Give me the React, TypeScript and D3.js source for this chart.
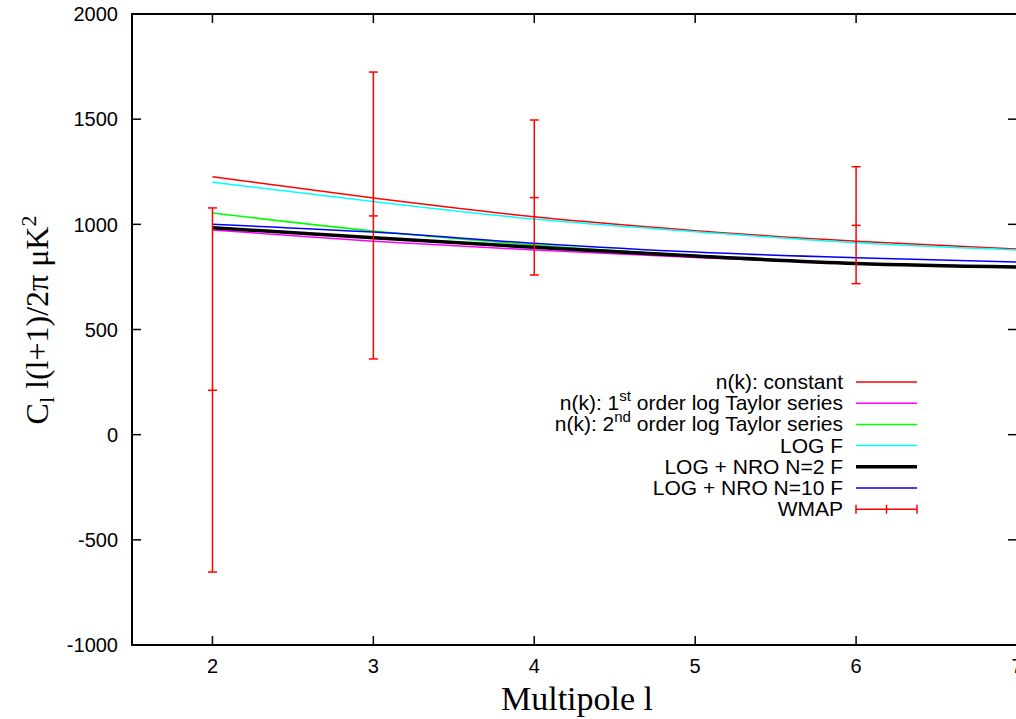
import * as d3 from 'd3';
import React from 'react';

// multipole values where the model curves are sampled
const ells = [2, 3, 4, 5, 6, 7];
const constantN = [1226, 1125, 1036, 970, 920, 883];
const taylor1st = [973, 920, 878, 842, 812, 795];
const taylor2nd = [1054, 968, 902, 852, 815, 797];
const logF = [1200, 1108, 1025, 965, 912, 878];
const logNro2 = [984, 936, 891, 849, 814, 797];
const logNro10 = [1000, 963, 910, 868, 841, 821];

// WMAP points with error bars
const wmapEll = [2, 3, 4, 6];
const wmapVal = [211, 1040, 1127, 995];
const wmapLow = [-653, 360, 759, 718];
const wmapHigh = [1078, 1724, 1496, 1274];

const xTicks = [2, 3, 4, 5, 6, 7];
const yTicks = [-1000, -500, 0, 500, 1000, 1500, 2000];

const series = [
  { label: 'constant', values: constantN, color: '#ff0000', width: 1.5 },
  { label: '1st', values: taylor1st, color: '#ff00ff', width: 1.5 },
  { label: '2nd', values: taylor2nd, color: '#00ff00', width: 1.5 },
  { label: 'LOG F', values: logF, color: '#00ffff', width: 1.5 },
  { label: 'LOG + NRO N=2 F', values: logNro2, color: '#000000', width: 3.5 },
  { label: 'LOG + NRO N=10 F', values: logNro10, color: '#0000ff', width: 1.5 },
];

const W = 1016;
const H = 719;
const left = 132;
const right = 1017;
const top = 14;
const bottom = 645;

export default function App() {
  const x = d3.scaleLinear().domain([1.5, 7]).range([left, right]);
  const y = d3.scaleLinear().domain([-1000, 2000]).range([bottom, top]);
  const line = d3
    .line<number>()
    .x((_, i) => x(ells[i]))
    .y((d) => y(d))
    .curve(d3.curveMonotoneX);

  const sans = 'Liberation Sans, Arial, sans-serif';
  const serif = 'Liberation Serif, Times New Roman, serif';
  const tick = 9;
  const cap = 4.5;

  const legendX = 843;
  const legendY0 = 382;
  const legendDy = 21.2;
  const lx1 = 856;
  const lx2 = 917;

  const labelFor = (s: string) => {
    if (s === 'constant') return <>n(k): constant</>;
    if (s === '1st')
      return (
        <>
          n(k): 1<tspan dy={-9} fontSize={15}>st</tspan>
          <tspan dy={9}> order log Taylor series</tspan>
        </>
      );
    if (s === '2nd')
      return (
        <>
          n(k): 2<tspan dy={-9} fontSize={15}>nd</tspan>
          <tspan dy={9}> order log Taylor series</tspan>
        </>
      );
    return <>{s}</>;
  };

  return (
    <svg
      width={W}
      height={H}
      style={{ position: 'absolute', left: 0, top: 0, background: '#fff' }}
    >
      <rect x={0} y={0} width={W} height={H} fill="#fff" />
      {/* frame */}
      <rect
        x={left}
        y={top}
        width={right - left}
        height={bottom - top}
        fill="none"
        stroke="#000"
        strokeWidth={2}
      />
      {/* y ticks */}
      {yTicks.map((t) => (
        <g key={'y' + t}>
          <line x1={left} x2={left + tick} y1={y(t)} y2={y(t)} stroke="#000" strokeWidth={1.5} />
          <line x1={right - tick} x2={right} y1={y(t)} y2={y(t)} stroke="#000" strokeWidth={1.5} />
          <text
            x={left - 14}
            y={y(t)}
            dy="0.36em"
            textAnchor="end"
            fontFamily={sans}
            fontSize={20}
          >
            {t}
          </text>
        </g>
      ))}
      {/* x ticks */}
      {xTicks.map((t) => (
        <g key={'x' + t}>
          <line x1={x(t)} x2={x(t)} y1={bottom} y2={bottom - tick} stroke="#000" strokeWidth={1.5} />
          <line x1={x(t)} x2={x(t)} y1={top} y2={top + tick} stroke="#000" strokeWidth={1.5} />
          <text x={x(t)} y={bottom + 28} textAnchor="middle" fontFamily={sans} fontSize={20}>
            {t}
          </text>
        </g>
      ))}
      {/* axis titles */}
      <text x={577} y={710} textAnchor="middle" fontFamily={serif} fontSize={34}>
        Multipole l
      </text>
      <text
        transform={`translate(48,${320}) rotate(-90)`}
        textAnchor="middle"
        fontFamily={serif}
        fontSize={32}
      >
        C<tspan dy={6} fontSize={22}>l</tspan>
        <tspan dy={-6}> l(l+1)/2π  μK</tspan>
        <tspan dy={-12} fontSize={22}>2</tspan>
      </text>

      {/* model curves */}
      {series.map((s) => (
        <path
          key={s.label}
          d={line(s.values) || ''}
          fill="none"
          stroke={s.color}
          strokeWidth={s.width}
        />
      ))}

      {/* WMAP error bars */}
      {wmapEll.map((l, i) => (
        <g key={'w' + l} stroke="#ff0000" strokeWidth={1.5}>
          <line x1={x(l)} x2={x(l)} y1={y(wmapLow[i])} y2={y(wmapHigh[i])} />
          <line x1={x(l) - cap} x2={x(l) + cap} y1={y(wmapLow[i])} y2={y(wmapLow[i])} />
          <line x1={x(l) - cap} x2={x(l) + cap} y1={y(wmapHigh[i])} y2={y(wmapHigh[i])} />
          <line x1={x(l) - cap} x2={x(l) + cap} y1={y(wmapVal[i])} y2={y(wmapVal[i])} />
        </g>
      ))}

      {/* legend */}
      {series.map((s, i) => {
        const ly = legendY0 + i * legendDy;
        return (
          <g key={'lg' + s.label}>
            <text x={legendX} y={ly + 7} textAnchor="end" fontFamily={sans} fontSize={21}>
              {labelFor(s.label)}
            </text>
            <line x1={lx1} x2={lx2} y1={ly} y2={ly} stroke={s.color} strokeWidth={s.width} />
          </g>
        );
      })}
      {(() => {
        const ly = legendY0 + 6 * legendDy;
        const mid = (lx1 + lx2) / 2;
        return (
          <g>
            <text x={legendX} y={ly + 7} textAnchor="end" fontFamily={sans} fontSize={21}>
              WMAP
            </text>
            <g stroke="#ff0000" strokeWidth={1.5}>
              <line x1={lx1} x2={lx2} y1={ly} y2={ly} />
              <line x1={lx1} x2={lx1} y1={ly - cap} y2={ly + cap} />
              <line x1={lx2} x2={lx2} y1={ly - cap} y2={ly + cap} />
              <line x1={mid} x2={mid} y1={ly - cap} y2={ly + cap} />
            </g>
          </g>
        );
      })()}
    </svg>
  );
}
